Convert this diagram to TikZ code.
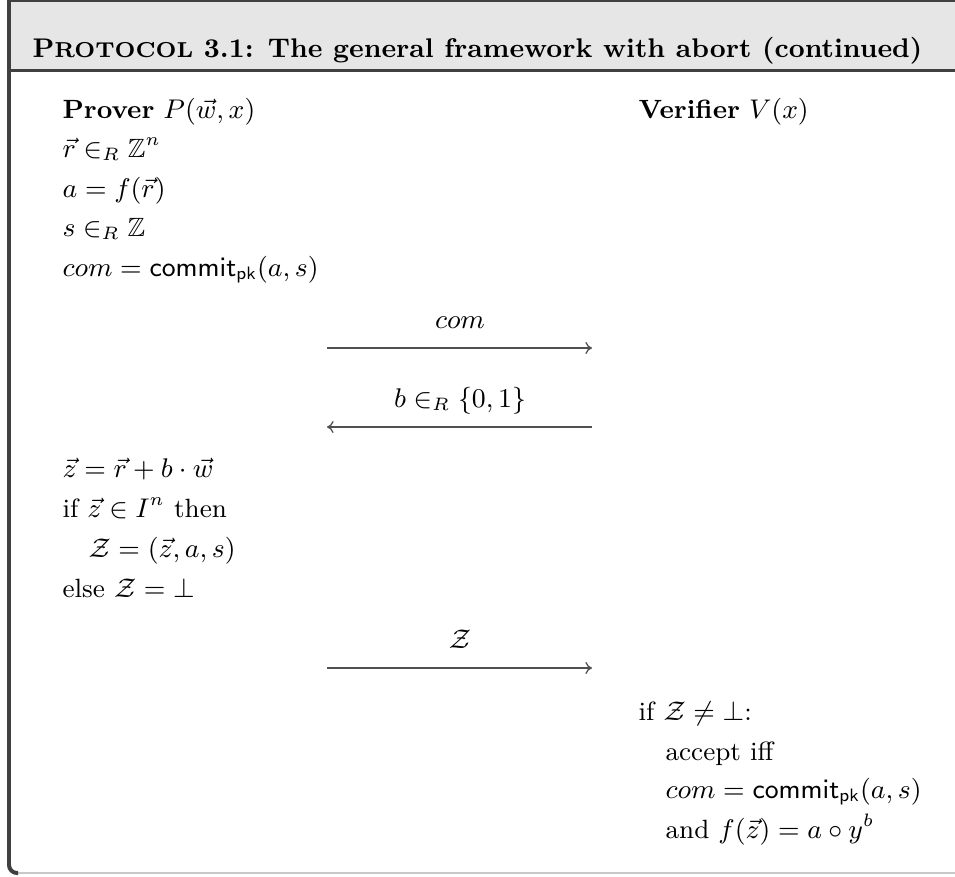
\documentclass[tikz,border=0pt]{standalone}
\usepackage{amsmath,amssymb}
\usetikzlibrary{arrows.meta}
\definecolor{framedark}{HTML}{404040}
\definecolor{headfill}{HTML}{E6E6E6}
\definecolor{bottomline}{HTML}{C8C8C8}
\definecolor{msgline}{HTML}{505050}
\newcommand{\mycommitpk}{\mathsf{commit}_{\mathsf{pk}}}
\begin{document}
\begin{tikzpicture}[x=0.3333pt,y=-0.3333pt,
  txt/.style={anchor=base west, inner sep=0pt, font=\fontsize{8.8}{10.5}\selectfont},
  lbl/.style={anchor=base, inner sep=0pt, font=\fontsize{8.8}{10.5}\selectfont},
  msg/.style={draw=msgline, line width=0.43pt, -{To[length=2.2pt,width=4pt]}}]
\useasboundingbox (0,0) rectangle (955,876);
% frame
\fill[headfill] (9,1) rectangle (955,70);
\draw[framedark, line width=0.67pt] (7,1) -- (955,1);
\draw[framedark, line width=1pt] (9,70.5) -- (955,70.5);
\draw[bottomline, line width=0.35pt] (16,873) -- (955,873);
\draw[framedark, line width=1.33pt, rounded corners=2.7pt] (9,0) -- (9,873) -- (18,873);
% header
\node[anchor=base west, inner sep=0pt, font=\fontsize{9}{11}\selectfont\bfseries] (title) at (32,57)
  {P{\fontsize{7.2}{9}\selectfont ROTOCOL} 3.1: The general framework with abort (continued)};
% prover column
\node[txt] (prover) at (62,118) {\textbf{Prover} $P(\vec{w},x)$};
\node[txt] (verifier) at (638,118) {\textbf{Verifier} $V(x)$};
\node[txt] (p1) at (62,157) {$\vec{r}\in_R\mathbb{Z}^n$};
\node[txt] (p2) at (62,197) {$a=f(\vec{r})$};
\node[txt] (p3) at (62,236) {$s\in_R\mathbb{Z}$};
\node[txt] (p4) at (62,276) {$com=\mycommitpk(a,s)$};
% message 1
\coordinate (m1a) at (327,348);
\coordinate (m1b) at (592,348);
\node[lbl] (l1) at (460,328) {$com$};
\draw[msg] (m1a) -- (m1b);
% message 2
\coordinate (m2a) at (327,427);
\coordinate (m2b) at (592,427);
\node[lbl] (l2) at (460,407) {$b\in_R\{0,1\}$};
\draw[msg] (m2b) -- (m2a);
% response
\node[txt] (p5) at (62,477) {$\vec{z}=\vec{r}+b\cdot\vec{w}$};
\node[txt] (p6) at (62,517) {if $\vec{z}\in I^n$ then};
\node[txt] (p7) at (88,557) {$\mathcal{Z}=(\vec{z},a,s)$};
\node[txt] (p8) at (62,597) {else $\mathcal{Z}=\bot$};
% message 3
\coordinate (m3a) at (327,668);
\coordinate (m3b) at (592,668);
\node[lbl] (l3) at (460,648) {$\mathcal{Z}$};
\draw[msg] (m3a) -- (m3b);
% verifier
\node[txt] (v1) at (638,720) {if $\mathcal{Z}\neq\bot$:};
\node[txt] (v2) at (665,760) {accept iff};
\node[txt] (v3) at (665,798) {$com=\mycommitpk(a,s)$};
\node[txt] (v4) at (665,838) {and $f(\vec{z})=a\circ y^b$};
\end{tikzpicture}
\end{document}
